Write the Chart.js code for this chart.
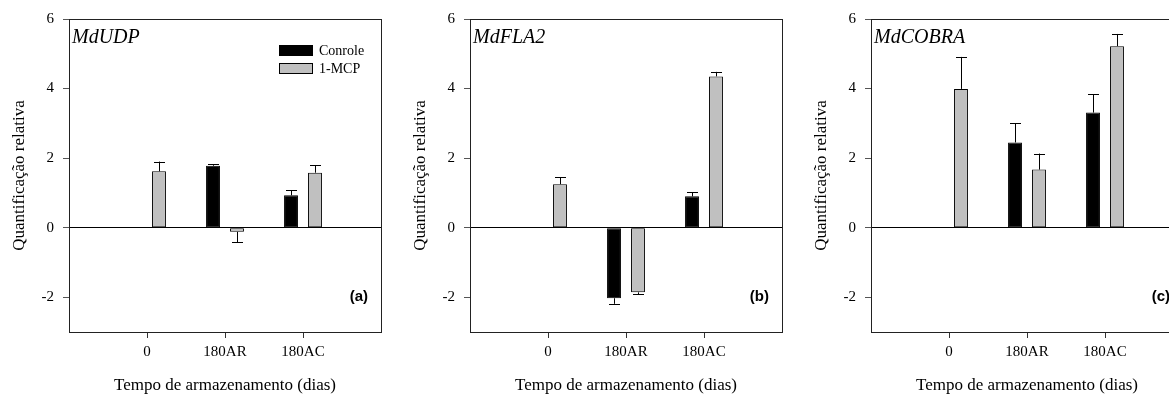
<!DOCTYPE html>
<html>
<head>
<meta charset="utf-8">
<script src="https://cdn.jsdelivr.net/npm/chart.js@4/dist/chart.umd.min.js"></script>
<style>
  html, body { margin: 0; padding: 0; background: #fff; overflow: hidden; }
  body { width: 1169px; height: 396px; position: relative; }
  canvas { position: absolute; top: 0; }
</style>
</head>
<body>
<canvas id="graf_a" width="390" height="396" style="left:0px"></canvas>
<canvas id="graf_b" width="390" height="396" style="left:401px"></canvas>
<canvas id="graf_c" width="390" height="396" style="left:802px"></canvas>
<script>
// dados
const categorias = ['0', '180AR', '180AC']
const yTicks = [-2, 0, 2, 4, 6]
const series = ['Conrole', '1-MCP']

const udpControle = [null, 1.78, 0.93]
const udpMCP = [1.62, -0.12, 1.58]
const udpErroControle = [null, 0.05, 0.14]
const udpErroMCP = [0.28, 0.30, 0.22]

const fla2Controle = [null, -2.03, 0.90]
const fla2MCP = [1.25, -1.86, 4.35]
const fla2ErroControle = [null, 0.16, 0.12]
const fla2ErroMCP = [0.20, 0.06, 0.13]

const cobraControle = [null, 2.45, 3.31]
const cobraMCP = [3.99, 1.67, 5.22]
const cobraErroControle = [null, 0.55, 0.52]
const cobraErroMCP = [0.92, 0.46, 0.35]

const serif = "'Liberation Serif', 'Times New Roman', serif"

// categorias vazias nas pontas para deixar o espaço dos lados
const pad = arr => [null, ...arr, null]

// barras de erro (só para o lado da barra)
const errorBars = {
  id: 'errorBars',
  afterDatasetsDraw(chart) {
    const ctx = chart.ctx
    const y = chart.scales.y
    chart.data.datasets.forEach((ds, i) => {
      const meta = chart.getDatasetMeta(i)
      meta.data.forEach((bar, j) => {
        const v = ds.data[j]
        const e = ds.erros[j]
        if (v == null || e == null) return
        const y0 = y.getPixelForValue(v)
        const y1 = y.getPixelForValue(v >= 0 ? v + e : v - e)
        ctx.save()
        ctx.strokeStyle = '#000'
        ctx.lineWidth = 1
        ctx.beginPath()
        ctx.moveTo(Math.round(bar.x) + 0.5, y0)
        ctx.lineTo(Math.round(bar.x) + 0.5, y1)
        ctx.moveTo(Math.round(bar.x) - 5, Math.round(y1) + 0.5)
        ctx.lineTo(Math.round(bar.x) + 6, Math.round(y1) + 0.5)
        ctx.stroke()
        ctx.restore()
      })
    })
  }
}

// moldura, nome do gene, letra do painel e legenda
const extras = {
  id: 'extras',
  afterDraw(chart) {
    const ctx = chart.ctx
    const a = chart.chartArea
    const o = chart.options.plugins.extras
    ctx.save()
    ctx.strokeStyle = '#222'
    ctx.lineWidth = 1
    ctx.strokeRect(Math.round(a.left) + 0.5, Math.round(a.top) + 0.5, Math.round(a.right - a.left), Math.round(a.bottom - a.top))

    ctx.fillStyle = '#000'
    ctx.font = 'italic 20px ' + serif
    ctx.textAlign = 'left'
    ctx.textBaseline = 'alphabetic'
    ctx.fillText(o.gene, a.left + 3, a.top + 24)

    ctx.font = "bold 15px 'Liberation Sans', Arial, sans-serif"
    ctx.textAlign = 'right'
    ctx.textBaseline = 'middle'
    ctx.fillText(o.letra, a.right - 13, a.bottom - 35)

    if (o.legenda) {
      chart.data.datasets.forEach((ds, i) => {
        const bx = a.left + 210
        const by = a.top + 26 + i * 18
        ctx.fillStyle = ds.backgroundColor
        ctx.fillRect(bx, by, 34, 11)
        ctx.strokeStyle = '#000'
        ctx.strokeRect(bx + 0.5, by + 0.5, 33, 10)
        ctx.fillStyle = '#000'
        ctx.font = '14px ' + serif
        ctx.textAlign = 'left'
        ctx.textBaseline = 'middle'
        ctx.fillText(ds.label, bx + 40, by + 6)
      })
    }
    ctx.restore()
  }
}

function painel(id, controle, mcp, erroControle, erroMCP, gene, letra, legenda) {
  const data = {
    labels: ['', ...categorias, ''],
    datasets: [{
      label: series[0],
      data: pad(controle),
      erros: pad(erroControle),
      backgroundColor: '#000000',
      borderColor: '#000',
      borderWidth: 1,
      borderSkipped: false,
      categoryPercentage: 0.615,
      barPercentage: 0.58
    }, {
      label: series[1],
      data: pad(mcp),
      erros: pad(erroMCP),
      backgroundColor: '#c0c0c0',
      borderColor: '#000',
      borderWidth: 1,
      borderSkipped: false,
      categoryPercentage: 0.615,
      barPercentage: 0.58
    }]
  }

  const config = {
    type: 'bar',
    data,
    options: {
      responsive: false,
      animation: false,
      layout: { padding: { left: 9, right: 9, top: 19, bottom: 0 } },
      plugins: {
        legend: { display: false },
        tooltip: { enabled: false },
        extras: { gene, letra, legenda }
      },
      scales: {
        x: {
          offset: false,
          grid: {
            offset: false, drawOnChartArea: false, drawTicks: true, tickLength: 6,
            tickColor: c => (c.index >= 1 && c.index <= categorias.length ? '#333' : 'rgba(0,0,0,0)')
          },
          border: { display: true, color: '#222' },
          ticks: {
            color: '#000', padding: 5, maxRotation: 0, autoSkip: false,
            font: { family: serif, size: 15 }
          },
          title: {
            display: true, text: 'Tempo de armazenamento (dias)', color: '#000',
            padding: 0, font: { family: serif, size: 17 }
          },
          afterFit(scale) { scale.height = 64 }
        },
        y: {
          min: -3,
          max: 6,
          afterBuildTicks(scale) { scale.ticks = yTicks.map(v => ({ value: v })) },
          grid: {
            drawOnChartArea: true, drawTicks: true, tickLength: 6, tickColor: '#555',
            color: c => (c.tick && c.tick.value === 0 ? '#000' : 'rgba(0,0,0,0)')
          },
          border: { display: true, color: '#444' },
          ticks: {
            color: '#000', padding: 9,
            font: { family: serif, size: 15 }
          },
          title: {
            display: true, text: 'Quantificação relativa', color: '#000',
            padding: 0, font: { family: serif, size: 17 }
          },
          afterFit(scale) { scale.width = 60 }
        }
      }
    },
    plugins: [errorBars, extras]
  }

  return new Chart(document.getElementById(id), config)
}

painel('graf_a', udpControle, udpMCP, udpErroControle, udpErroMCP, 'MdUDP', '(a)', true)
painel('graf_b', fla2Controle, fla2MCP, fla2ErroControle, fla2ErroMCP, 'MdFLA2', '(b)', false)
painel('graf_c', cobraControle, cobraMCP, cobraErroControle, cobraErroMCP, 'MdCOBRA', '(c)', false)
</script>
</body>
</html>
